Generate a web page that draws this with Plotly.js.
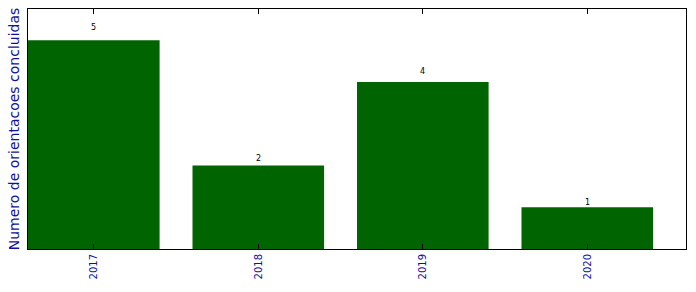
<!DOCTYPE html>
<html><head><meta charset="utf-8">
<script src="https://cdn.plot.ly/plotly-3.0.1.min.js"></script>
<style>html,body{margin:0;padding:0;background:#fff}#c{width:696px;height:292px}</style>
</head><body><div id="c"></div>
<script>
const years = ['2017', '2018', '2019', '2020'];
const counts = [5, 2, 4, 1];

const xs = years.map(Number);
const annotations = xs.map((x, i) => ({
  x: x, y: counts[i] * 1.05, xref: 'x', yref: 'y',
  text: String(counts[i]), showarrow: false, yanchor: 'bottom', yshift: -4,
  font: {family: 'DejaVu Sans', size: 8, color: '#000'}
}));

Plotly.newPlot('c', [{
  type: 'bar', x: xs, y: counts, width: 0.8,
  marker: {color: '#006400', line: {color: '#006400', width: 0}},
  hoverinfo: 'none'
}], {
  width: 696, height: 292,
  margin: {l: 28, r: 10, t: 9, b: 43},
  paper_bgcolor: '#fff', plot_bgcolor: '#fff',
  showlegend: false,
  xaxis: {
    range: [2016.6, 2020.6], tickmode: 'array', tickvals: xs, ticktext: years,
    tickangle: -90, ticks: 'inside', ticklen: 5, tickcolor: '#000', tickwidth: 1,
    showline: true, linecolor: '#000', linewidth: 1, mirror: 'ticks',
    showgrid: false, zeroline: false,
    tickfont: {family: 'DejaVu Sans', size: 10, color: '#1010a0'}
  },
  yaxis: {
    range: [0, 5.75], showticklabels: false, ticks: '',
    showline: true, linecolor: '#000', linewidth: 1, mirror: true,
    showgrid: false, zeroline: false,
    title: {text: 'Numero de orientacoes concluidas', standoff: 4,
      font: {family: 'DejaVu Sans', size: 14, color: '#1010a0'}}
  },
  annotations: annotations
}, {staticPlot: true});
</script></body></html>
